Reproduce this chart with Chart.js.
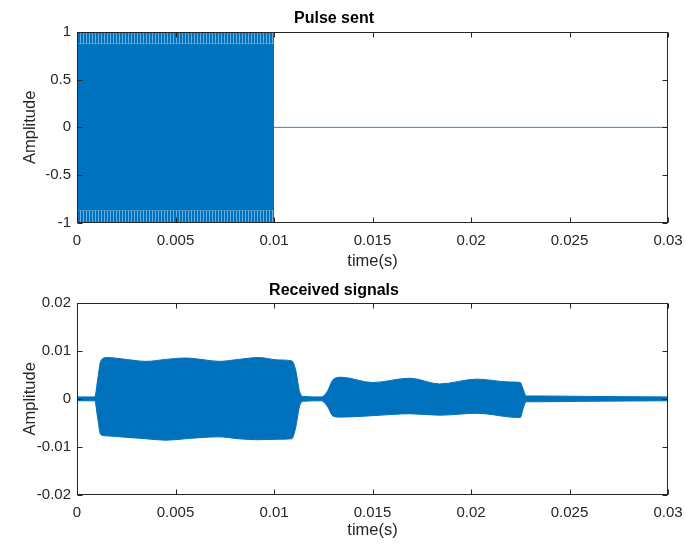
<!DOCTYPE html>
<html>
<head>
<meta charset="utf-8">
<script src="https://cdn.jsdelivr.net/npm/chart.js@4.4.0/dist/chart.umd.min.js"></script>
<style>
  html, body { margin: 0; padding: 0; background: #fff; }
  #wrap { position: relative; width: 686px; height: 550px; }
  canvas { position: absolute; left: 0; }
</style>
</head>
<body>
<div id="wrap">
  <canvas id="pulseChart" width="686" height="275" style="top:0"></canvas>
  <canvas id="recvChart" width="686" height="275" style="top:275px"></canvas>
</div>
<script>
// ---- data ----
const xTicks = [0, 0.005, 0.01, 0.015, 0.02, 0.025, 0.03];
const xTickLabels = ["0", "0.005", "0.01", "0.015", "0.02", "0.025", "0.03"];
const pulseYTicks = [-1, -0.5, 0, 0.5, 1];
const pulseYTickLabels = ["-1", "-0.5", "0", "0.5", "1"];
const recvYTicks = [-0.02, -0.01, 0, 0.01, 0.02];
const recvYTickLabels = ["-0.02", "-0.01", "0", "0.01", "0.02"];

// pulse sent: dense carrier, drawn as its envelope
const pulseT = [0, 0.01];
const pulseMax = [1, 1];
const pulseCrest = [0.88, 0.88];   // where the striped crest starts
const pulseTrough = [-0.87, -0.87];
const pulseMin = [-1, -1];
const tailT = [0.01, 0.03];
const tailAmp = [0, 0];

// received signals: upper / lower envelope
const recvT = [0, 0.0009, 0.00105, 0.0012, 0.0015, 0.0025, 0.0035, 0.0045, 0.0055, 0.0065,
  0.0072, 0.0082, 0.0092, 0.0102, 0.0109, 0.0111, 0.0113, 0.0115, 0.0124, 0.0127,
  0.0130, 0.0134, 0.0150, 0.0169, 0.0184, 0.0203, 0.0220, 0.0225, 0.02265, 0.0228,
  0.0235, 0.0260, 0.0300];
const recvUpper = [0.0004, 0.0004, 0.004, 0.0078, 0.0086, 0.0082, 0.0078, 0.0082, 0.0085, 0.0081,
  0.0078, 0.0082, 0.0086, 0.0081, 0.0079, 0.006, 0.0015, 0.0005, 0.0004, 0.0015,
  0.0040, 0.0045, 0.0034, 0.0043, 0.0031, 0.0041, 0.0035, 0.0034, 0.0020, 0.0006,
  0.0006, 0.0005, 0.0004];
const recvLower = [-0.0004, -0.0004, -0.004, -0.0074, -0.0077, -0.0080, -0.0083, -0.0086, -0.0083, -0.0080,
  -0.0079, -0.0083, -0.0085, -0.0084, -0.0083, -0.006, -0.0015, -0.0005, -0.0004, -0.0015,
  -0.0036, -0.0038, -0.0035, -0.0031, -0.0034, -0.0030, -0.0038, -0.0039, -0.0020, -0.0006,
  -0.0006, -0.0005, -0.0004];

const BLUE = "#0072BD";
const AXIS = "#262626";
const FONT = "'Liberation Sans', Arial, Helvetica, sans-serif";

function pts(xs, ys) {
  return xs.map((x, i) => ({ x: x, y: ys[i] }));
}

// inward ticks + full box, like a matlab axes
const matlabBox = {
  id: "matlabBox",
  afterDatasetsDraw(chart) {
    const { ctx, chartArea: a, scales } = chart;
    const L = Math.round(a.left) + 0.5, R = Math.round(a.right) - 0.5;
    const T = Math.round(a.top) + 0.5, B = Math.round(a.bottom) - 0.5;
    ctx.save();
    ctx.strokeStyle = AXIS;
    ctx.lineWidth = 1;
    ctx.strokeRect(L, T, R - L, B - T);
    ctx.beginPath();
    scales.x.ticks.forEach(t => {
      const px = Math.round(scales.x.getPixelForValue(t.value)) + 0.5;
      ctx.moveTo(px, B); ctx.lineTo(px, B - 5);
      ctx.moveTo(px, T); ctx.lineTo(px, T + 5);
    });
    scales.y.ticks.forEach(t => {
      const py = Math.round(scales.y.getPixelForValue(t.value)) + 0.5;
      ctx.moveTo(L, py); ctx.lineTo(L + 5, py);
      ctx.moveTo(R, py); ctx.lineTo(R - 5, py);
    });
    ctx.stroke();
    ctx.restore();
  }
};

function makeOptions(cfg) {
  return {
    responsive: false,
    animation: false,
    events: [],
    layout: { padding: { left: 0, right: 18, top: 0, bottom: 0 } },
    plugins: {
      legend: { display: false },
      tooltip: { enabled: false },
      title: {
        display: true,
        text: cfg.title,
        color: "#000",
        font: { family: FONT, size: 16, weight: "bold", lineHeight: 1.2 },
        padding: cfg.titlePad
      }
    },
    scales: {
      x: {
        type: "linear",
        min: 0, max: 0.03,
        grid: { display: false, drawTicks: false, tickLength: 0 },
        border: { display: false },
        afterBuildTicks: s => { s.ticks = xTicks.map(v => ({ value: v })); },
        afterFit: s => { s.height = cfg.xHeight; s.paddingLeft = 0; s.paddingRight = 0; },
        ticks: {
          color: AXIS, padding: 9, maxRotation: 0, autoSkip: false,
          font: { family: FONT, size: 15 },
          callback: (v, i) => xTickLabels[i]
        },
        title: {
          display: true, text: "time(s)", color: AXIS,
          font: { family: FONT, size: 16.5, lineHeight: 1.2 },
          padding: { top: 0, bottom: cfg.xTitleBottom }
        }
      },
      y: {
        type: "linear",
        min: cfg.yTicks[0], max: cfg.yTicks[cfg.yTicks.length - 1],
        grid: { display: false, drawTicks: false, tickLength: 0 },
        border: { display: false },
        afterBuildTicks: s => { s.ticks = cfg.yTicks.map(v => ({ value: v })); },
        afterFit: s => { s.width = 77; s.paddingTop = 0; s.paddingBottom = 0; },
        ticks: {
          color: AXIS, padding: 6, autoSkip: false,
          font: { family: FONT, size: 15 },
          callback: (v, i) => cfg.yTickLabels[i]
        },
        title: {
          display: true, text: "Amplitude", color: AXIS,
          font: { family: FONT, size: 16.5, lineHeight: 1.2 },
          padding: { top: 21, bottom: 0 }
        }
      }
    }
  };
}

function crestPattern(ctx) {
  const c = document.createElement("canvas");
  c.width = 3; c.height = 1;
  const g = c.getContext("2d");
  g.fillStyle = BLUE; g.fillRect(0, 0, 3, 1);
  g.fillStyle = "#6aaee0"; g.fillRect(2, 0, 1, 1);
  return ctx.createPattern(c, "repeat");
}

Chart.register(matlabBox);

const pulseCtx = document.getElementById("pulseChart").getContext("2d");
const stripes = crestPattern(pulseCtx);
const band = { type: "line", pointRadius: 0, borderWidth: 0, tension: 0 };

new Chart(pulseCtx, {
  type: "line",
  data: {
    datasets: [
      { ...band, data: pts(pulseT, pulseMax), fill: false },
      { ...band, data: pts(pulseT, pulseCrest), fill: 0, backgroundColor: stripes },
      { ...band, data: pts(pulseT, pulseTrough), fill: 1, backgroundColor: BLUE },
      { ...band, data: pts(pulseT, pulseMin), fill: 2, backgroundColor: stripes },
      { type: "line", data: pts(tailT, tailAmp), pointRadius: 0, borderWidth: 1,
        borderColor: "#2f86c8", fill: false }
    ]
  },
  options: makeOptions({
    title: "Pulse sent",
    titlePad: { top: 9, bottom: 4 },
    xHeight: 52.5,
    xTitleBottom: 4,
    yTicks: pulseYTicks,
    yTickLabels: pulseYTickLabels
  })
});

new Chart(document.getElementById("recvChart"), {
  type: "line",
  data: {
    datasets: [
      { type: "line", data: pts(recvT, recvUpper), pointRadius: 0, borderWidth: 1,
        borderColor: BLUE, fill: false, cubicInterpolationMode: "monotone" },
      { type: "line", data: pts(recvT, recvLower), pointRadius: 0, borderWidth: 1,
        borderColor: BLUE, backgroundColor: BLUE, fill: 0, cubicInterpolationMode: "monotone" }
    ]
  },
  options: makeOptions({
    title: "Received signals",
    titlePad: { top: 6, bottom: 2.5 },
    xHeight: 55,
    xTitleBottom: 10,
    yTicks: recvYTicks,
    yTickLabels: recvYTickLabels
  })
});
</script>
</body>
</html>
